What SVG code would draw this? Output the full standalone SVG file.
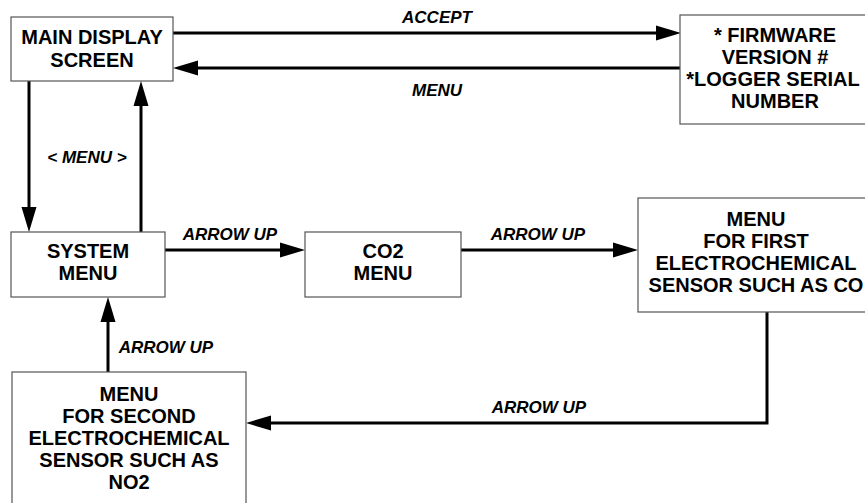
<svg xmlns="http://www.w3.org/2000/svg" width="865" height="503" viewBox="0 0 865 503">
<style>
.box{fill:#fff;stroke:#555;stroke-width:1.2}
.t{font-family:"Liberation Sans",Arial,Helvetica,sans-serif;font-weight:bold;font-size:20px;fill:#000;text-anchor:middle}
.l{font-family:"Liberation Sans",Arial,Helvetica,sans-serif;font-weight:bold;font-style:italic;font-size:17px;fill:#000;text-anchor:middle}
.c{fill:none;stroke:#000;stroke-width:3;marker-end:url(#ah)}
</style>
<defs>
<marker id="ah" markerUnits="userSpaceOnUse" markerWidth="25" markerHeight="16" refX="0" refY="7.5" orient="auto" viewBox="0 0 25 15">
<path d="M0,0 L25,7.5 L0,15 z" fill="#000"/>
</marker>
</defs>
<rect width="865" height="503" fill="#fff"/>
<g id="connectors">
<line class="c" x1="173" y1="33" x2="656" y2="33"/>
<line class="c" x1="680" y1="68" x2="198" y2="68"/>
<line class="c" x1="29" y1="81" x2="29" y2="207"/>
<line class="c" x1="141" y1="232" x2="141" y2="106"/>
<line class="c" x1="165" y1="250" x2="280" y2="250"/>
<line class="c" x1="461" y1="250" x2="613" y2="250"/>
<polyline class="c" points="767,312 767,423 271,423"/>
<line class="c" x1="108" y1="372" x2="108" y2="322"/>
<text class="l" x="437" y="23">ACCEPT</text>
<text class="l" x="437" y="96">MENU</text>
<text class="l" x="87" y="163">&lt; MENU &gt;</text>
<text class="l" x="230" y="240">ARROW UP</text>
<text class="l" x="538" y="240">ARROW UP</text>
<text class="l" x="539" y="413">ARROW UP</text>
<text class="l" x="166" y="353">ARROW UP</text>
</g>
<g id="main-display">
<rect class="box" x="11" y="17" width="162" height="64"/>
<text class="t" x="92" y="44">MAIN DISPLAY</text>
<text class="t" x="92" y="67">SCREEN</text>
</g>
<g id="firmware">
<rect class="box" x="680" y="15" width="200" height="109"/>
<text class="t" x="775" y="42">* FIRMWARE</text>
<text class="t" x="775" y="64">VERSION #</text>
<text class="t" x="773" y="86">*LOGGER SERIAL</text>
<text class="t" x="775" y="108">NUMBER</text>
</g>
<g id="system-menu">
<rect class="box" x="11" y="232" width="154" height="65"/>
<text class="t" x="88" y="258">SYSTEM</text>
<text class="t" x="88" y="280">MENU</text>
</g>
<g id="co2-menu">
<rect class="box" x="305" y="232" width="156" height="65"/>
<text class="t" x="383" y="258">CO2</text>
<text class="t" x="383" y="280">MENU</text>
</g>
<g id="first-sensor">
<rect class="box" x="638" y="198" width="240" height="114"/>
<text class="t" x="756" y="226">MENU</text>
<text class="t" x="756" y="248">FOR FIRST</text>
<text class="t" x="756" y="270">ELECTROCHEMICAL</text>
<text class="t" x="756" y="292">SENSOR SUCH AS CO</text>
</g>
<g id="second-sensor">
<rect class="box" x="12" y="372" width="234" height="140"/>
<text class="t" x="129" y="401">MENU</text>
<text class="t" x="129" y="423">FOR SECOND</text>
<text class="t" x="129" y="445">ELECTROCHEMICAL</text>
<text class="t" x="129" y="467">SENSOR SUCH AS</text>
<text class="t" x="129" y="489">NO2</text>
</g>
</svg>
